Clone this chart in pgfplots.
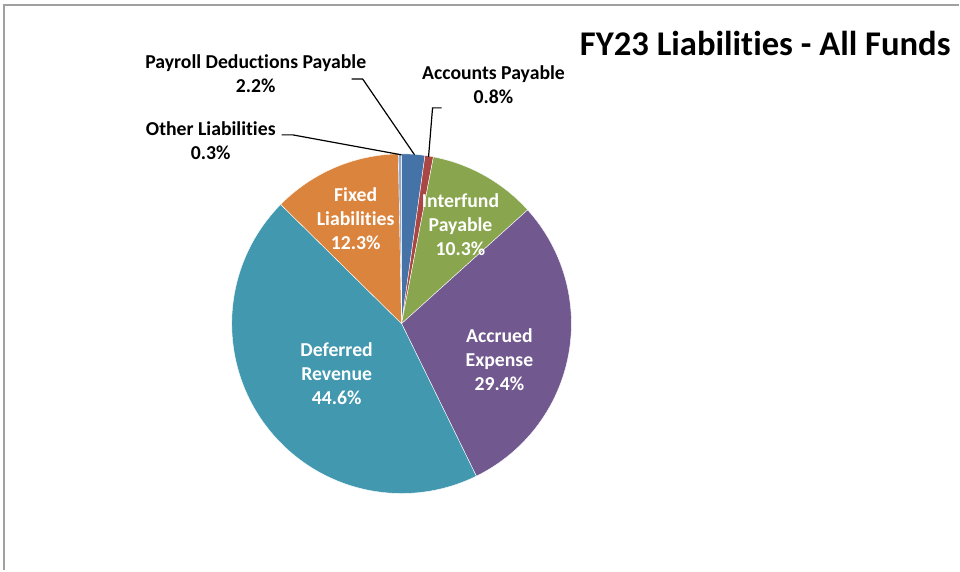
\documentclass[border=0pt]{standalone}
\usepackage{pgfplots}
\pgfplotsset{compat=1.18}
\usepackage{fontspec}
\setmainfont{Carlito}[RawFeature={-liga}]
\definecolor{cPay}{HTML}{4572A7}
\definecolor{cAP}{HTML}{AA4643}
\definecolor{cInt}{HTML}{89A54E}
\definecolor{cAcc}{HTML}{71588F}
\definecolor{cDef}{HTML}{4198AF}
\definecolor{cFix}{HTML}{DB843D}
\definecolor{cOth}{HTML}{93A9CF}
\definecolor{frame}{HTML}{A0A0A0}
\begin{document}
\begin{tikzpicture}
% shares in percent (Payroll, Accounts Payable, Interfund, Accrued, Deferred, Fixed, Other)
\def\vA{2.2}\def\vB{0.8}\def\vC{10.3}\def\vD{29.4}\def\vE{44.6}\def\vF{12.3}\def\vG{0.3}
\pgfmathsetmacro\tot{\vA+\vB+\vC+\vD+\vE+\vF+\vG}
\pgfmathsetmacro\aA{90}
\pgfmathsetmacro\aB{\aA-360*\vA/\tot}
\pgfmathsetmacro\aC{\aB-360*\vB/\tot}
\pgfmathsetmacro\aD{\aC-360*\vC/\tot}
\pgfmathsetmacro\aE{\aD-360*\vD/\tot}
\pgfmathsetmacro\aF{\aE-360*\vE/\tot}
\pgfmathsetmacro\aG{\aF-360*\vF/\tot}
\pgfmathsetmacro\aH{\aG-360*\vG/\tot}
\begin{axis}[scale only axis, width=720pt, height=428.25pt,
  xmin=0, xmax=960, ymin=0, ymax=571, y dir=reverse,
  hide axis, clip=false]
\addplot[fill=cPay, draw=white, line width=0.3pt, domain=\aB:\aA, samples=20, variable=\t] ({402+170*cos(\t)},{324-170*sin(\t)}) -- (402,324) -- cycle;
\addplot[fill=cAP, draw=white, line width=0.3pt, domain=\aC:\aB, samples=10, variable=\t] ({402+170*cos(\t)},{324-170*sin(\t)}) -- (402,324) -- cycle;
\addplot[fill=cInt, draw=white, line width=0.3pt, domain=\aD:\aC, samples=40, variable=\t] ({402+170*cos(\t)},{324-170*sin(\t)}) -- (402,324) -- cycle;
\addplot[fill=cAcc, draw=white, line width=0.3pt, domain=\aE:\aD, samples=90, variable=\t] ({402+170*cos(\t)},{324-170*sin(\t)}) -- (402,324) -- cycle;
\addplot[fill=cDef, draw=white, line width=0.3pt, domain=\aF:\aE, samples=140, variable=\t] ({402+170*cos(\t)},{324-170*sin(\t)}) -- (402,324) -- cycle;
\addplot[fill=cFix, draw=white, line width=0.3pt, domain=\aG:\aF, samples=40, variable=\t] ({402+170*cos(\t)},{324-170*sin(\t)}) -- (402,324) -- cycle;
\addplot[fill=cOth, draw=white, line width=0.3pt, domain=\aH:\aG, samples=5, variable=\t] ({402+170*cos(\t)},{324-170*sin(\t)}) -- (402,324) -- cycle;
% frame
\draw[frame, line width=1.5pt] (4,571) -- (4,5) -- (960,5);
% leader lines
\draw[black, line width=0.9pt] (352,79) -- (363,79) -- (415,155);
\draw[black, line width=0.9pt] (442,108) -- (433,108) -- (429,157);
\draw[black, line width=0.9pt] (282,135) -- (293,135) -- (402,155);
% title
\node[font=\fontsize{26}{30}\selectfont\bfseries, anchor=base] at (766,56) {FY23 Liabilities - All Funds};
% labels
\begin{scope}[every node/.style={font=\fontsize{14.8}{18}\selectfont\bfseries, align=center}]
\node at (256,74) {Payroll Deductions Payable\\2.2\%};
\node at (494,85) {Accounts Payable\\0.8\%};
\node at (211,141) {Other Liabilities\\0.3\%};
\node[text=white] at (356,219) {Fixed\\Liabilities\\12.3\%};
\node[text=white] at (461,225) {Interfund\\Payable\\10.3\%};
\node[text=white] at (500,360) {Accrued\\Expense\\29.4\%};
\node[text=white] at (337,374) {Deferred\\Revenue\\44.6\%};
\end{scope}
\end{axis}
\path[use as bounding box] (0,0) rectangle (720pt,428.25pt);
\end{tikzpicture}
\end{document}
